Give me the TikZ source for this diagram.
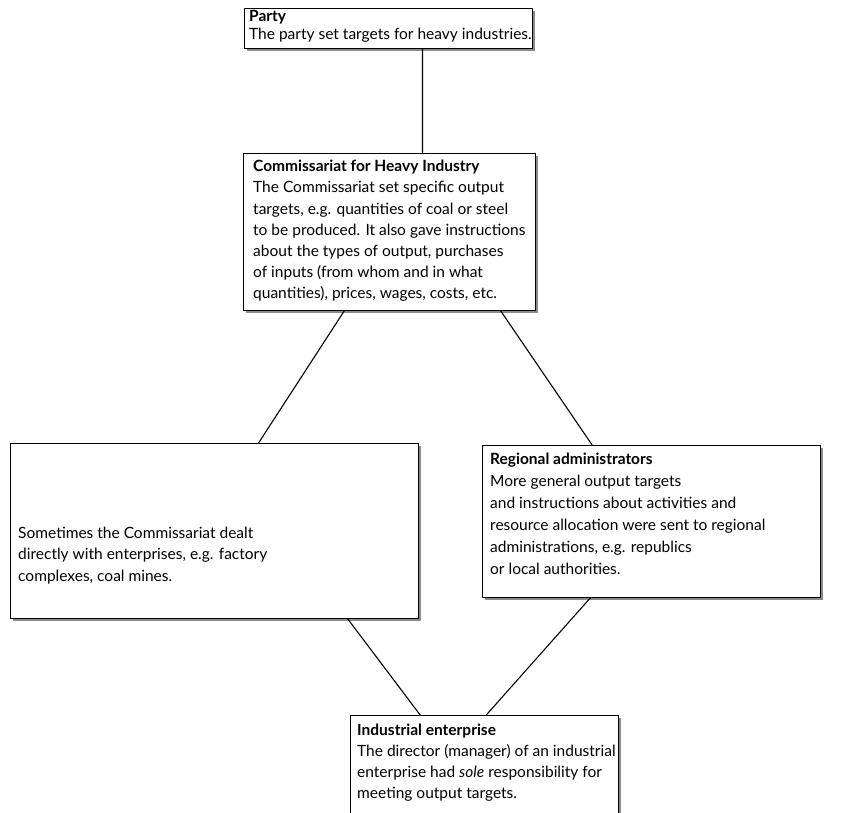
\documentclass[tikz,border=0pt]{standalone}
\usepackage{fontspec}
\setmainfont{Lato}
\usetikzlibrary{calc,shadows}
\begin{document}
\begin{tikzpicture}[x=1pt,y=-1pt,
  boxshape/.style={draw, line width=0.8pt, fill=white, anchor=north west, inner sep=0pt,
    drop shadow={shadow xshift=2.5pt, shadow yshift=-2.5pt, fill=black!45, opacity=1}},
  txt/.style={anchor=north west, align=left, inner sep=0pt, font=\fontsize{15.5}{21.2}\selectfont},
  link/.style={line width=1.1pt}]
\useasboundingbox (0,0) rectangle (841,812);
\clip (0,0) rectangle (841,812);
% boxes
\node[boxshape, minimum width=288pt, minimum height=40pt] (party) at (244,8) {};
\node[boxshape, minimum width=292pt, minimum height=157pt] (comm) at (243,153) {};
\node[boxshape, minimum width=408pt, minimum height=175pt] (left) at (10,443) {};
\node[boxshape, minimum width=338pt, minimum height=152pt] (right) at (482,445) {};
\node[boxshape, minimum width=268pt, minimum height=120pt] (bottom) at (350,715) {};
% texts
\node[txt, font=\fontsize{15.5}{18.5}\selectfont] (partyt) at (249,10) {\textbf{Party}\\The party set targets for heavy industries.};
\node[txt] (commt) at (253,160) {\textbf{Commissariat for Heavy Industry}\\The Commissariat set specific output\\targets, e.g. quantities of coal or steel\\to be produced. It also gave instructions\\about the types of output, purchases\\of inputs (from whom and in what\\quantities), prices, wages, costs, etc.};
\node[txt] (leftt) at (18,527) {Sometimes the Commissariat dealt\\directly with enterprises, e.g. factory\\complexes, coal mines.};
\node[txt, font=\fontsize{15.5}{22}\selectfont] (rightt) at (490,453) {\textbf{Regional administrators}\\More general output targets\\and instructions about activities and\\resource allocation were sent to regional\\administrations, e.g. republics\\or local authorities.};
\node[txt, font=\fontsize{15.5}{20.8}\selectfont] (bottomt) at (357,724) {\textbf{Industrial enterprise}\\The director (manager) of an industrial\\enterprise had \textit{sole} responsibility for\\meeting output targets.};
% connectors
\draw[link] ($(party.south west)!0.618!(party.south east)$) -- ($(comm.north west)!0.613!(comm.north east)$);
\draw[link] ($(comm.south west)!0.346!(comm.south east)$) -- ($(left.north west)!0.608!(left.north east)$);
\draw[link] ($(comm.south west)!0.880!(comm.south east)$) -- ($(right.north west)!0.325!(right.north east)$);
\draw[link] ($(left.south west)!0.826!(left.south east)$) -- ($(bottom.north west)!0.261!(bottom.north east)$);
\draw[link] ($(right.south west)!0.320!(right.south east)$) -- ($(bottom.north west)!0.507!(bottom.north east)$);
\end{tikzpicture}
\end{document}
